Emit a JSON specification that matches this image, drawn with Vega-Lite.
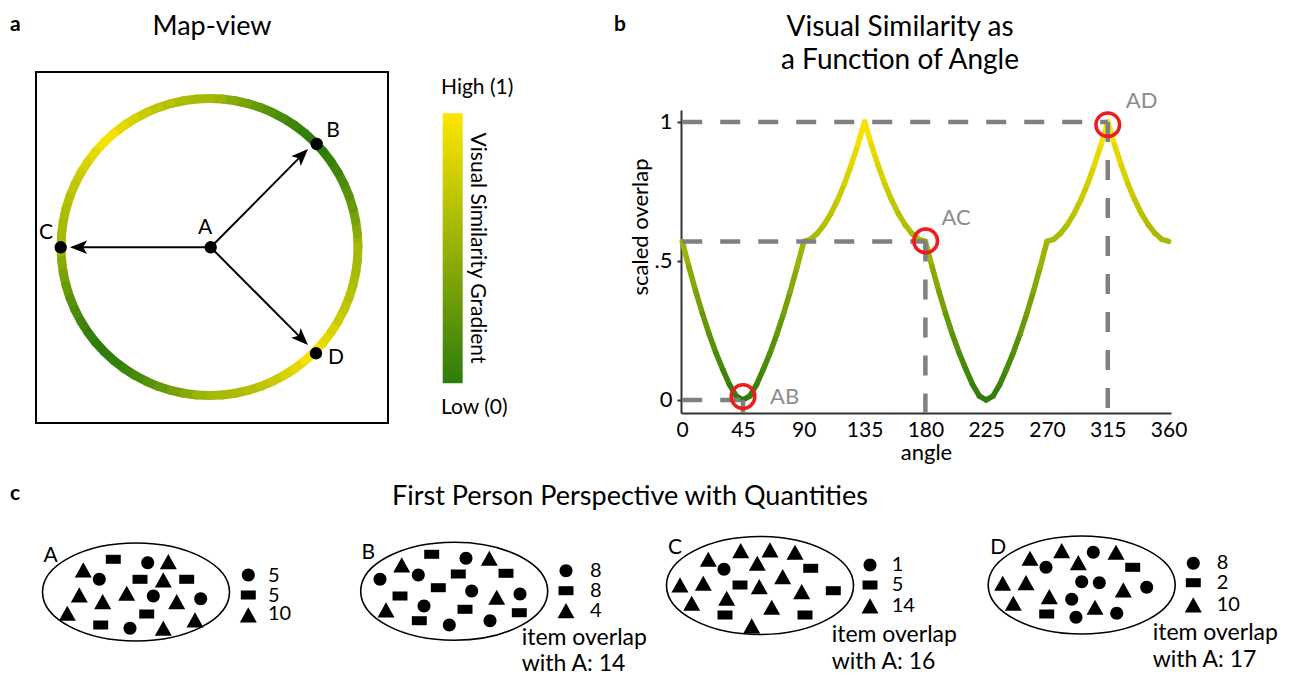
{
"$schema":"https://vega.github.io/schema/vega-lite/v6.json",
"background":"white","padding":0,
"config":{"view":{"stroke":null},"font":"Lato","axis":{"grid":false}},
"datasets":{
"segs":[
{"a":0,"a2":5,"s":0.57,"s2":0.478,"v":0.524},{"a":5,"a2":10,"s":0.478,"s2":0.391,"v":0.434},{"a":10,"a2":15,"s":0.391,"s2":0.31,"v":0.351},{"a":15,"a2":20,"s":0.31,"s2":0.236,"v":0.273},{"a":20,"a2":25,"s":0.236,"s2":0.169,"v":0.203},{"a":25,"a2":30,"s":0.169,"s2":0.11,"v":0.14},{"a":30,"a2":35,"s":0.11,"s2":0.055,"v":0.083},{"a":35,"a2":40,"s":0.055,"s2":0.014,"v":0.035},{"a":40,"a2":45,"s":0.014,"s2":0,"v":0.007},{"a":45,"a2":50,"s":0,"s2":0.014,"v":0.007},{"a":50,"a2":55,"s":0.014,"s2":0.055,"v":0.035},{"a":55,"a2":60,"s":0.055,"s2":0.11,"v":0.083},{"a":60,"a2":65,"s":0.11,"s2":0.169,"v":0.14},{"a":65,"a2":70,"s":0.169,"s2":0.236,"v":0.203},{"a":70,"a2":75,"s":0.236,"s2":0.31,"v":0.273},{"a":75,"a2":80,"s":0.31,"s2":0.391,"v":0.351},{"a":80,"a2":85,"s":0.391,"s2":0.478,"v":0.434},{"a":85,"a2":90,"s":0.478,"s2":0.57,"v":0.524},
{"a":90,"a2":95,"s":0.57,"s2":0.578,"v":0.574},{"a":95,"a2":100,"s":0.578,"s2":0.599,"v":0.589},{"a":100,"a2":105,"s":0.599,"s2":0.63,"v":0.614},{"a":105,"a2":110,"s":0.63,"s2":0.67,"v":0.65},{"a":110,"a2":115,"s":0.67,"s2":0.719,"v":0.695},{"a":115,"a2":120,"s":0.719,"s2":0.777,"v":0.748},{"a":120,"a2":125,"s":0.777,"s2":0.844,"v":0.811},{"a":125,"a2":130,"s":0.844,"s2":0.918,"v":0.881},{"a":130,"a2":135,"s":0.918,"s2":1,"v":0.959},{"a":135,"a2":140,"s":1,"s2":0.918,"v":0.959},{"a":140,"a2":145,"s":0.918,"s2":0.844,"v":0.881},{"a":145,"a2":150,"s":0.844,"s2":0.777,"v":0.811},{"a":150,"a2":155,"s":0.777,"s2":0.719,"v":0.748},{"a":155,"a2":160,"s":0.719,"s2":0.67,"v":0.695},{"a":160,"a2":165,"s":0.67,"s2":0.63,"v":0.65},{"a":165,"a2":170,"s":0.63,"s2":0.599,"v":0.614},{"a":170,"a2":175,"s":0.599,"s2":0.578,"v":0.589},{"a":175,"a2":180,"s":0.578,"s2":0.57,"v":0.574},
{"a":180,"a2":185,"s":0.57,"s2":0.478,"v":0.524},{"a":185,"a2":190,"s":0.478,"s2":0.391,"v":0.434},{"a":190,"a2":195,"s":0.391,"s2":0.31,"v":0.351},{"a":195,"a2":200,"s":0.31,"s2":0.236,"v":0.273},{"a":200,"a2":205,"s":0.236,"s2":0.169,"v":0.203},{"a":205,"a2":210,"s":0.169,"s2":0.11,"v":0.14},{"a":210,"a2":215,"s":0.11,"s2":0.055,"v":0.083},{"a":215,"a2":220,"s":0.055,"s2":0.014,"v":0.035},{"a":220,"a2":225,"s":0.014,"s2":0,"v":0.007},{"a":225,"a2":230,"s":0,"s2":0.014,"v":0.007},{"a":230,"a2":235,"s":0.014,"s2":0.055,"v":0.035},{"a":235,"a2":240,"s":0.055,"s2":0.11,"v":0.083},{"a":240,"a2":245,"s":0.11,"s2":0.169,"v":0.14},{"a":245,"a2":250,"s":0.169,"s2":0.236,"v":0.203},{"a":250,"a2":255,"s":0.236,"s2":0.31,"v":0.273},{"a":255,"a2":260,"s":0.31,"s2":0.391,"v":0.351},{"a":260,"a2":265,"s":0.391,"s2":0.478,"v":0.434},{"a":265,"a2":270,"s":0.478,"s2":0.57,"v":0.524},
{"a":270,"a2":275,"s":0.57,"s2":0.578,"v":0.574},{"a":275,"a2":280,"s":0.578,"s2":0.599,"v":0.589},{"a":280,"a2":285,"s":0.599,"s2":0.63,"v":0.614},{"a":285,"a2":290,"s":0.63,"s2":0.67,"v":0.65},{"a":290,"a2":295,"s":0.67,"s2":0.719,"v":0.695},{"a":295,"a2":300,"s":0.719,"s2":0.777,"v":0.748},{"a":300,"a2":305,"s":0.777,"s2":0.844,"v":0.811},{"a":305,"a2":310,"s":0.844,"s2":0.918,"v":0.881},{"a":310,"a2":315,"s":0.918,"s2":1,"v":0.959},{"a":315,"a2":320,"s":1,"s2":0.918,"v":0.959},{"a":320,"a2":325,"s":0.918,"s2":0.844,"v":0.881},{"a":325,"a2":330,"s":0.844,"s2":0.777,"v":0.811},{"a":330,"a2":335,"s":0.777,"s2":0.719,"v":0.748},{"a":335,"a2":340,"s":0.719,"s2":0.67,"v":0.695},{"a":340,"a2":345,"s":0.67,"s2":0.63,"v":0.65},{"a":345,"a2":350,"s":0.63,"s2":0.599,"v":0.614},{"a":350,"a2":355,"s":0.599,"s2":0.578,"v":0.589},{"a":355,"a2":360,"s":0.578,"s2":0.57,"v":0.574}
],
"ring":[
{"x":358.0,"y":247.0,"x2":357.43,"y2":234.06,"v":0.524},{"x":357.43,"y":234.06,"x2":355.74,"y2":221.21,"v":0.434},{"x":355.74,"y":221.21,"x2":352.94,"y2":208.57,"v":0.351},{"x":352.94,"y":208.57,"x2":349.04,"y2":196.21,"v":0.273},{"x":349.04,"y":196.21,"x2":344.09,"y2":184.24,"v":0.203},{"x":344.09,"y":184.24,"x2":338.1,"y2":172.75,"v":0.14},{"x":338.1,"y":172.75,"x2":331.14,"y2":161.82,"v":0.083},{"x":331.14,"y":161.82,"x2":323.26,"y2":151.55,"v":0.035},{"x":323.26,"y":151.55,"x2":314.51,"y2":141.99,"v":0.007},{"x":314.51,"y":141.99,"x2":304.95,"y2":133.24,"v":0.007},{"x":304.95,"y":133.24,"x2":294.68,"y2":125.36,"v":0.035},{"x":294.68,"y":125.36,"x2":283.75,"y2":118.4,"v":0.083},{"x":283.75,"y":118.4,"x2":272.26,"y2":112.41,"v":0.14},{"x":272.26,"y":112.41,"x2":260.29,"y2":107.46,"v":0.203},{"x":260.29,"y":107.46,"x2":247.93,"y2":103.56,"v":0.273},{"x":247.93,"y":103.56,"x2":235.29,"y2":100.76,"v":0.351},{"x":235.29,"y":100.76,"x2":222.44,"y2":99.07,"v":0.434},{"x":222.44,"y":99.07,"x2":209.5,"y2":98.5,"v":0.524},
{"x":209.5,"y":98.5,"x2":196.56,"y2":99.07,"v":0.574},{"x":196.56,"y":99.07,"x2":183.71,"y2":100.76,"v":0.589},{"x":183.71,"y":100.76,"x2":171.07,"y2":103.56,"v":0.614},{"x":171.07,"y":103.56,"x2":158.71,"y2":107.46,"v":0.65},{"x":158.71,"y":107.46,"x2":146.74,"y2":112.41,"v":0.695},{"x":146.74,"y":112.41,"x2":135.25,"y2":118.4,"v":0.748},{"x":135.25,"y":118.4,"x2":124.32,"y2":125.36,"v":0.811},{"x":124.32,"y":125.36,"x2":114.05,"y2":133.24,"v":0.881},{"x":114.05,"y":133.24,"x2":104.49,"y2":141.99,"v":0.959},{"x":104.49,"y":141.99,"x2":95.74,"y2":151.55,"v":0.959},{"x":95.74,"y":151.55,"x2":87.86,"y2":161.82,"v":0.881},{"x":87.86,"y":161.82,"x2":80.9,"y2":172.75,"v":0.811},{"x":80.9,"y":172.75,"x2":74.91,"y2":184.24,"v":0.748},{"x":74.91,"y":184.24,"x2":69.96,"y2":196.21,"v":0.695},{"x":69.96,"y":196.21,"x2":66.06,"y2":208.57,"v":0.65},{"x":66.06,"y":208.57,"x2":63.26,"y2":221.21,"v":0.614},{"x":63.26,"y":221.21,"x2":61.57,"y2":234.06,"v":0.589},{"x":61.57,"y":234.06,"x2":61.0,"y2":247.0,"v":0.574},
{"x":61.0,"y":247.0,"x2":61.57,"y2":259.94,"v":0.524},{"x":61.57,"y":259.94,"x2":63.26,"y2":272.79,"v":0.434},{"x":63.26,"y":272.79,"x2":66.06,"y2":285.43,"v":0.351},{"x":66.06,"y":285.43,"x2":69.96,"y2":297.79,"v":0.273},{"x":69.96,"y":297.79,"x2":74.91,"y2":309.76,"v":0.203},{"x":74.91,"y":309.76,"x2":80.9,"y2":321.25,"v":0.14},{"x":80.9,"y":321.25,"x2":87.86,"y2":332.18,"v":0.083},{"x":87.86,"y":332.18,"x2":95.74,"y2":342.45,"v":0.035},{"x":95.74,"y":342.45,"x2":104.49,"y2":352.01,"v":0.007},{"x":104.49,"y":352.01,"x2":114.05,"y2":360.76,"v":0.007},{"x":114.05,"y":360.76,"x2":124.32,"y2":368.64,"v":0.035},{"x":124.32,"y":368.64,"x2":135.25,"y2":375.6,"v":0.083},{"x":135.25,"y":375.6,"x2":146.74,"y2":381.59,"v":0.14},{"x":146.74,"y":381.59,"x2":158.71,"y2":386.54,"v":0.203},{"x":158.71,"y":386.54,"x2":171.07,"y2":390.44,"v":0.273},{"x":171.07,"y":390.44,"x2":183.71,"y2":393.24,"v":0.351},{"x":183.71,"y":393.24,"x2":196.56,"y2":394.93,"v":0.434},{"x":196.56,"y":394.93,"x2":209.5,"y2":395.5,"v":0.524},
{"x":209.5,"y":395.5,"x2":222.44,"y2":394.93,"v":0.574},{"x":222.44,"y":394.93,"x2":235.29,"y2":393.24,"v":0.589},{"x":235.29,"y":393.24,"x2":247.93,"y2":390.44,"v":0.614},{"x":247.93,"y":390.44,"x2":260.29,"y2":386.54,"v":0.65},{"x":260.29,"y":386.54,"x2":272.26,"y2":381.59,"v":0.695},{"x":272.26,"y":381.59,"x2":283.75,"y2":375.6,"v":0.748},{"x":283.75,"y":375.6,"x2":294.68,"y2":368.64,"v":0.811},{"x":294.68,"y":368.64,"x2":304.95,"y2":360.76,"v":0.881},{"x":304.95,"y":360.76,"x2":314.51,"y2":352.01,"v":0.959},{"x":314.51,"y":352.01,"x2":323.26,"y2":342.45,"v":0.959},{"x":323.26,"y":342.45,"x2":331.14,"y2":332.18,"v":0.881},{"x":331.14,"y":332.18,"x2":338.1,"y2":321.25,"v":0.811},{"x":338.1,"y":321.25,"x2":344.09,"y2":309.76,"v":0.748},{"x":344.09,"y":309.76,"x2":349.04,"y2":297.79,"v":0.695},{"x":349.04,"y":297.79,"x2":352.94,"y2":285.43,"v":0.65},{"x":352.94,"y":285.43,"x2":355.74,"y2":272.79,"v":0.614},{"x":355.74,"y":272.79,"x2":357.43,"y2":259.94,"v":0.589},{"x":357.43,"y":259.94,"x2":358.0,"y2":247.0,"v":0.574}
],
"items":[
{"k":"circle","x":99.3,"y":579.3},{"k":"circle","x":147.7,"y":562.7},{"k":"circle","x":153.3,"y":596},{"k":"circle","x":200.7,"y":598.7},{"k":"circle","x":130,"y":628.3},
{"k":"rect","x":113.3,"y":559.3},{"k":"rect","x":140,"y":579.3},{"k":"rect","x":186.7,"y":579.3},{"k":"rect","x":146.7,"y":614},{"k":"rect","x":100.7,"y":625},
{"k":"tri","x":83.3,"y":570},{"k":"tri","x":168.3,"y":561.7},{"k":"tri","x":163.3,"y":580},{"k":"tri","x":79.3,"y":595},{"k":"tri","x":102.7,"y":601.7},{"k":"tri","x":126.7,"y":593.3},{"k":"tri","x":176.7,"y":601.7},{"k":"tri","x":67.3,"y":613.3},{"k":"tri","x":163.3,"y":628.3},{"k":"tri","x":195,"y":620},
{"k":"circle","x":380,"y":579.3},{"k":"circle","x":418.3,"y":575},{"k":"circle","x":466,"y":558.3},{"k":"circle","x":471.7,"y":591},{"k":"circle","x":520,"y":594},{"k":"circle","x":424,"y":606},{"k":"circle","x":449.3,"y":625},{"k":"circle","x":490,"y":620.7},
{"k":"rect","x":431.7,"y":554.3},{"k":"rect","x":458.3,"y":574},{"k":"rect","x":506,"y":573.3},{"k":"rect","x":438.3,"y":587.7},{"k":"rect","x":400,"y":596},{"k":"rect","x":465,"y":609.3},{"k":"rect","x":519.3,"y":612.7},{"k":"rect","x":419.3,"y":620.7},
{"k":"tri","x":401.7,"y":565},{"k":"tri","x":489.3,"y":558.3},{"k":"tri","x":496.7,"y":597.3},{"k":"tri","x":386,"y":610},
{"k":"tri","x":708.3,"y":559.3},{"k":"tri","x":740.7,"y":550.7},{"k":"tri","x":770,"y":550},{"k":"tri","x":795,"y":552.3},{"k":"tri","x":757.3,"y":563.3},{"k":"tri","x":680,"y":585},{"k":"tri","x":703.3,"y":583.3},{"k":"tri","x":782.7,"y":576.7},{"k":"tri","x":759.3,"y":586.7},{"k":"tri","x":801.7,"y":591.7},{"k":"tri","x":691.7,"y":603.3},{"k":"tri","x":726.7,"y":598.3},{"k":"tri","x":771.7,"y":607.3},{"k":"tri","x":751.7,"y":626},
{"k":"circle","x":724,"y":569.3},
{"k":"rect","x":810.7,"y":568.3},{"k":"rect","x":740,"y":585},{"k":"rect","x":833.3,"y":590.7},{"k":"rect","x":725,"y":615},{"k":"rect","x":805,"y":615},
{"k":"tri","x":1030,"y":558.3},{"k":"tri","x":1061.7,"y":550.7},{"k":"tri","x":1116,"y":552.3},{"k":"tri","x":1078.3,"y":562.7},{"k":"tri","x":1002.7,"y":583.3},{"k":"tri","x":1026,"y":582.7},{"k":"tri","x":1123.3,"y":590},{"k":"tri","x":1049.3,"y":596.7},{"k":"tri","x":1013.3,"y":603.3},{"k":"tri","x":1095,"y":607.3},
{"k":"circle","x":1093.3,"y":552.3},{"k":"circle","x":1046,"y":567.3},{"k":"circle","x":1081.7,"y":581.7},{"k":"circle","x":1099.3,"y":582.7},{"k":"circle","x":1146.7,"y":587.3},{"k":"circle","x":1071.7,"y":599.3},{"k":"circle","x":1116.7,"y":613.3},{"k":"circle","x":1076,"y":617.3},
{"k":"rect","x":1132.7,"y":567.3},{"k":"rect","x":1046.7,"y":614},
{"k":"circle","x":248.3,"y":575},{"k":"rect","x":248.3,"y":595},{"k":"tri","x":248.3,"y":615},
{"k":"circle","x":566,"y":570.7},{"k":"rect","x":566,"y":590.7},{"k":"tri","x":566,"y":610.7},
{"k":"circle","x":870,"y":565},{"k":"rect","x":870,"y":585},{"k":"tri","x":870,"y":606},
{"k":"circle","x":1193.3,"y":563.3},{"k":"rect","x":1193.3,"y":582.7},{"k":"tri","x":1193.3,"y":605}
]
},
"bounds":"full","spacing":0,
"vconcat":[
{"bounds":"flush","spacing":211,"hconcat":[
{"width":470,"height":470,
"encoding":{"x":{"field":"x","type":"quantitative","scale":{"domain":[0,470],"nice":false,"zero":false},"axis":null},
"y":{"field":"y","type":"quantitative","scale":{"domain":[0,470],"nice":false,"zero":false,"reverse":true},"axis":null}},
"layer":[
{"data":{"values":[{"x":36,"y":72,"x2":388,"y2":423}]},"mark":{"type":"rect","filled":false,"stroke":"black","strokeWidth":2},"encoding":{"x2":{"field":"x2"},"y2":{"field":"y2"}}},
{"data":{"name":"ring"},"mark":{"type":"rule","strokeWidth":9,"strokeCap":"round"},
"encoding":{"x2":{"field":"x2"},"y2":{"field":"y2"},
"color":{"field":"v","type":"quantitative","scale":{"domain":[0,1],"range":["#2d7c0b","#ffe600"],"interpolate":"rgb"},"legend":null}}},
{"data":{"values":[{"x":210.7,"y":247.3,"x2":301.7,"y2":155.4,"dir":45},{"x":210.7,"y":247.3,"x2":79,"y2":247.3,"dir":270},{"x":210.7,"y":247.3,"x2":301.6,"y2":338.6,"dir":135}]},
"layer":[
{"mark":{"type":"rule","color":"black","strokeWidth":2},"encoding":{"x2":{"field":"x2"},"y2":{"field":"y2"}}},
{"mark":{"type":"point","shape":"M0,-1L0.75,0.9L0,0.45L-0.75,0.9Z","size":324,"filled":true,"color":"black","opacity":1},
"encoding":{"x":{"field":"x2","type":"quantitative"},"y":{"field":"y2","type":"quantitative"},"angle":{"field":"dir","type":"quantitative","scale":null}}}
]},
{"data":{"values":[{"x":210.7,"y":247.3},{"x":316.7,"y":144},{"x":60.7,"y":247.3},{"x":316,"y":353.3}]},"mark":{"type":"point","shape":"circle","filled":true,"color":"black","size":154,"opacity":1}},
{"data":{"values":[{"x":205,"y":228,"t":"A"},{"x":333,"y":131,"t":"B"},{"x":46,"y":233,"t":"C"},{"x":336,"y":358,"t":"D"}]},"mark":{"type":"text","fontSize":21,"baseline":"middle","align":"center","color":"black"},"encoding":{"text":{"field":"t"}}},
{"data":{"values":[{"x":442.7,"y":113.3,"x2":462.7,"y2":383.3}]},"mark":{"type":"rect","fill":{"gradient":"linear","x1":0,"y1":0,"x2":0,"y2":1,"stops":[{"offset":0,"color":"#ffe600"},{"offset":1,"color":"#2d7c0b"}]}},"encoding":{"x2":{"field":"x2"},"y2":{"field":"y2"}}},
{"data":{"values":[{"x":441,"y":88,"t":"High (1)"},{"x":441,"y":408,"t":"Low (0)"}]},"mark":{"type":"text","fontSize":21,"align":"left","baseline":"middle","color":"black"},"encoding":{"text":{"field":"t"}}},
{"data":{"values":[{"x":477,"y":248,"t":"Visual Similarity Gradient"}]},"mark":{"type":"text","fontSize":21,"align":"center","baseline":"middle","angle":90,"color":"black"},"encoding":{"text":{"field":"t"}}},
{"data":{"values":[{"x":212,"y":35,"t":"Map-view"}]},"mark":{"type":"text","fontSize":27,"align":"center","baseline":"alphabetic","color":"black"},"encoding":{"text":{"field":"t"}}},
{"data":{"values":[{"x":10,"y":31,"t":"a"}]},"mark":{"type":"text","fontSize":21,"fontWeight":"bold","align":"left","baseline":"alphabetic","color":"black"},"encoding":{"text":{"field":"t"}}}
]},
{"bounds":"flush","spacing":0,"vconcat":[
{"width":490,"height":110,
"encoding":{"x":{"field":"x","type":"quantitative","scale":{"domain":[0,490],"nice":false,"zero":false},"axis":null},
"y":{"field":"y","type":"quantitative","scale":{"domain":[0,110],"nice":false,"zero":false,"reverse":true},"axis":null}},
"layer":[
{"data":{"values":[{"x":219,"y":36,"t":"Visual Similarity as"},{"x":219,"y":69,"t":"a Function of Angle"}]},"mark":{"type":"text","fontSize":28,"align":"center","baseline":"alphabetic","color":"black"},"encoding":{"text":{"field":"t"}}},
{"data":{"values":[{"x":-67,"y":31,"t":"b"}]},"mark":{"type":"text","fontSize":21,"fontWeight":"bold","align":"left","baseline":"alphabetic","color":"black"},"encoding":{"text":{"field":"t"}}}
]},
{"width":490,"height":303,
"encoding":{
"x":{"field":"a","type":"quantitative","scale":{"domain":[-0.9,361.8],"nice":false,"zero":false},
"axis":{"values":[0,45,90,135,180,225,270,315,360],"format":"d","title":"angle","ticks":false,"labelFontSize":21,"labelColor":"black","labelPadding":6,"labelFlush":false,"labelOverlap":false,"titleFontSize":22,"titleFontWeight":"normal","titleColor":"black","titlePadding":2,"domainColor":"#333333","domainWidth":2}},
"y":{"field":"s","type":"quantitative","scale":{"domain":[-0.047,1.043],"nice":false,"zero":false},
"axis":{"values":[0,0.5,1],"labelExpr":"datum.value == 0.5 ? '.5' : (datum.value == 1 ? '1' : '0')","title":"scaled overlap","tickSize":4,"tickColor":"#333333","tickWidth":2,"labelPadding":5,"labelFontSize":22,"labelColor":"black","titleFontSize":22,"titleFontWeight":"normal","titleColor":"black","titleX":-41,"titleY":116.5,"titleBaseline":"middle","titleAlign":"center","titleAngle":-90,"domainColor":"#333333","domainWidth":2}}},
"layer":[
{"data":{"name":"segs"},"mark":{"type":"rule","strokeWidth":5.5,"strokeCap":"round"},
"encoding":{"x2":{"field":"a2"},"y2":{"field":"s2"},"color":{"field":"v","type":"quantitative","scale":{"domain":[0,1],"range":["#2d7c0b","#ffe600"],"interpolate":"rgb"},"legend":null}}},
{"data":{"values":[{"a":0,"a2":315,"s":1,"s2":1},{"a":315,"a2":315,"s":1,"s2":-0.047},{"a":0,"a2":180,"s":0.57,"s2":0.57},{"a":180,"a2":180,"s":0.57,"s2":-0.047},{"a":0,"a2":45,"s":0,"s2":0},{"a":45,"a2":45,"s":0,"s2":-0.047}]},
"mark":{"type":"rule","strokeDash":[20,18],"strokeWidth":4.5,"color":"#808080"},"encoding":{"x2":{"field":"a2"},"y2":{"field":"s2"}}},
{"data":{"values":[{"a":45,"s":0.012},{"a":180.2,"s":0.572},{"a":315,"s":0.99}]},"mark":{"type":"point","shape":"circle","filled":false,"stroke":"#ee1c1c","strokeWidth":3.5,"size":560,"opacity":1}},
{"data":{"values":[{"a":65,"s":0.011,"t":"AB"},{"a":192,"s":0.655,"t":"AC"},{"a":328.3,"s":1.074,"t":"AD"}]},"mark":{"type":"text","align":"left","baseline":"middle","fontSize":22,"color":"#8c8c8c"},"encoding":{"text":{"field":"t"}}}
]}
]}
]},
{"width":1292,"height":206,
"encoding":{"x":{"field":"x","type":"quantitative","scale":{"domain":[0,1292],"nice":false,"zero":false},"axis":null},
"y":{"field":"y","type":"quantitative","scale":{"domain":[470,676],"nice":false,"zero":false,"reverse":true},"axis":null}},
"layer":[
{"data":{"values":[{"x":136,"y":592},{"x":454.2,"y":591.2},{"x":760,"y":585.5},{"x":1081.7,"y":585}]},"mark":{"type":"point","shape":"M-1,0A1,0.524,0,1,1,1,0A1,0.524,0,1,1,-1,0Z","size":34969,"filled":false,"stroke":"black","strokeWidth":1.6,"opacity":1}},
{"data":{"name":"items"},"mark":{"type":"point","filled":true,"color":"black","size":289,"opacity":1},
"encoding":{"shape":{"field":"k","type":"nominal","scale":{"domain":["circle","rect","tri"],"range":["M-0.765,0A0.765,0.765,0,1,1,0.765,0A0.765,0.765,0,1,1,-0.765,0Z","M-0.88,-0.53H0.88V0.53H-0.88Z","M0,-0.9L1,0.88L-1,0.88Z"]},"legend":null}}},
{"data":{"values":[{"x":268,"y":575.7,"t":"5"},{"x":268,"y":595.7,"t":"5"},{"x":268,"y":614,"t":"10"},{"x":590,"y":570.7,"t":"8"},{"x":590,"y":590.7,"t":"8"},{"x":590,"y":610.7,"t":"4"},{"x":891.7,"y":565,"t":"1"},{"x":891.7,"y":585,"t":"5"},{"x":891.7,"y":606,"t":"14"},{"x":1216.7,"y":563.3,"t":"8"},{"x":1216.7,"y":582.7,"t":"2"},{"x":1216.7,"y":605,"t":"10"}]},
"mark":{"type":"text","fontSize":20,"align":"left","baseline":"middle","color":"black"},"encoding":{"text":{"field":"t"}}},
{"data":{"values":[{"x":50.7,"y":556,"t":"A"},{"x":368.3,"y":552.7,"t":"B"},{"x":675,"y":548.3,"t":"C"},{"x":998.3,"y":548.3,"t":"D"}]},
"mark":{"type":"text","fontSize":21,"align":"center","baseline":"middle","color":"black"},"encoding":{"text":{"field":"t"}}},
{"data":{"values":[{"x":521.7,"y":638,"t":"item overlap"},{"x":521.7,"y":664,"t":"with A: 14"},{"x":831.7,"y":635,"t":"item overlap"},{"x":831.7,"y":661.7,"t":"with A: 16"},{"x":1152.7,"y":633.3,"t":"item overlap"},{"x":1152.7,"y":660,"t":"with A: 17"}]},
"mark":{"type":"text","fontSize":23,"align":"left","baseline":"middle","color":"black"},"encoding":{"text":{"field":"t"}}},
{"data":{"values":[{"x":630,"y":505,"t":"First Person Perspective with Quantities"}]},"mark":{"type":"text","fontSize":27,"align":"center","baseline":"alphabetic","color":"black"},"encoding":{"text":{"field":"t"}}},
{"data":{"values":[{"x":10,"y":500,"t":"c"}]},"mark":{"type":"text","fontSize":21,"fontWeight":"bold","align":"left","baseline":"alphabetic","color":"black"},"encoding":{"text":{"field":"t"}}}
]}
]
}
